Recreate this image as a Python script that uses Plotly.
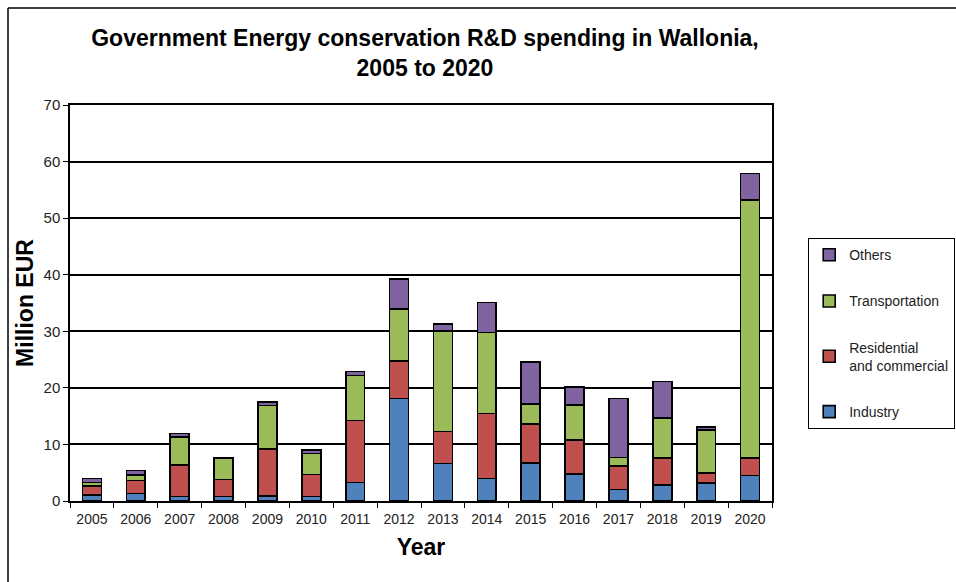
import plotly.graph_objects as go

years = [str(y) for y in range(2005, 2021)]

industry = [1.1, 1.3, 0.8, 0.8, 0.9, 0.8, 3.3, 18.1, 6.6, 4.0, 6.7, 4.8, 2.0, 2.8, 3.2, 4.5]
residential = [1.6, 2.3, 5.6, 3.0, 8.3, 3.9, 10.9, 6.7, 5.7, 11.5, 6.9, 6.0, 4.2, 4.8, 1.8, 3.1]
transportation = [0.6, 1.0, 4.9, 3.7, 7.7, 3.7, 8.0, 9.1, 17.7, 14.3, 3.5, 6.2, 1.5, 7.1, 7.5, 45.6]
others = [0.7, 0.8, 0.6, 0.1, 0.6, 0.6, 0.7, 5.3, 1.3, 5.3, 7.5, 3.1, 10.4, 6.4, 0.6, 4.7]

# (legend label, values, fill colour, legend position)
series = [
    ("Industry", industry, "#4F81BD", 4),
    ("Residential<br>and commercial", residential, "#C0504D", 3),
    ("Transportation", transportation, "#9BBB59", 2),
    ("Others", others, "#8064A2", 1),
]

FONT = "Liberation Sans, Arial, sans-serif"

fig = go.Figure()
for name, vals, color, rank in series:
    fig.add_trace(go.Bar(
        x=years, y=vals, name=name, legendgroup=name, legendrank=rank,
        marker=dict(color=color, line=dict(color="black", width=1.6)),
    ))

# plot-area bounds in pixels
L, R, T, B = 70, 772, 105, 501
W, H = 956, 582
def px_x(p):
    return (p - L) / (R - L)
def px_y(p):
    return (B - p) / (B - T)

# chart frame (left and top edges)
fig.add_shape(type="line", xref="paper", yref="paper",
              x0=px_x(8), x1=px_x(8), y0=px_y(8), y1=px_y(H + 5),
              line=dict(color="black", width=1.5))
fig.add_shape(type="line", xref="paper", yref="paper",
              x0=px_x(8), x1=px_x(W + 5), y0=px_y(8), y1=px_y(8),
              line=dict(color="black", width=1.5))

fig.update_layout(
    width=W, height=H,
    barmode="stack", bargap=0.57,
    plot_bgcolor="white", paper_bgcolor="white",
    margin=dict(l=L, r=W - R, t=T, b=H - B, autoexpand=False),
    font=dict(family=FONT, color="#222222", size=13),
    title=dict(
        text="Government Energy conservation R&D spending in Wallonia,<br>2005 to 2020",
        x=px_x(425), xref="paper", xanchor="center",
        y=1 - 46 / H, yanchor="middle",
        font=dict(family=FONT, size=23, color="black", weight="bold"),
    ),
    xaxis=dict(
        showline=True, linecolor="black", linewidth=1.5, mirror=True,
        ticks="outside", tickson="boundaries", ticklen=5, tickcolor="black",
        tickfont=dict(size=14, color="#222222"), ticklabelstandoff=4,
        title=dict(text="Year", font=dict(size=23, color="black", weight="bold"), standoff=13),
    ),
    yaxis=dict(
        range=[0, 70], dtick=10,
        showline=True, linecolor="black", linewidth=1.5, mirror=True,
        showgrid=True, gridcolor="black", gridwidth=1.5,
        ticks="outside", ticklen=5, tickcolor="black",
        tickfont=dict(size=15, color="#222222"),
        title=dict(text="Million EUR", font=dict(size=23, color="black", weight="bold"), standoff=4),
        zeroline=False,
    ),
    legend=dict(
        traceorder="grouped", tracegroupgap=25,
        x=px_x(808), xanchor="left", y=px_y(238), yanchor="top",
        bordercolor="black", borderwidth=1.2, bgcolor="white",
        font=dict(size=14, color="#222222"),
        itemwidth=30,
    ),
)

fig.write_html("out.html")
